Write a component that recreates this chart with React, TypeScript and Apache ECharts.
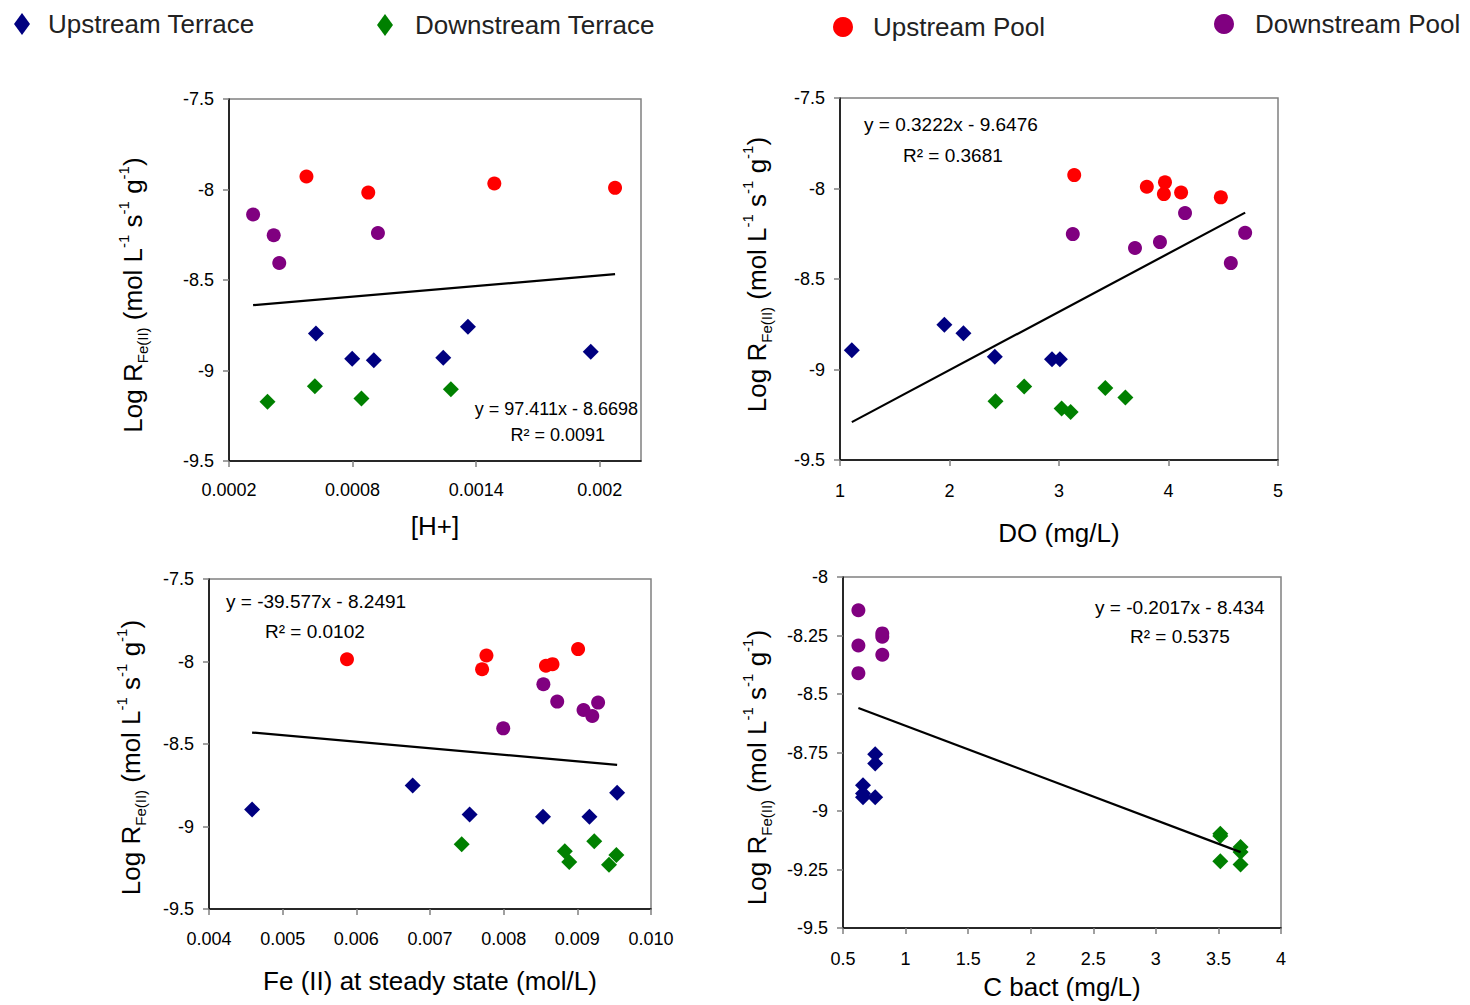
import React, { useEffect, useRef } from 'react';
import * as echarts from 'echarts';

const FONT = "'Liberation Sans', Arial, Helvetica, sans-serif";

const seriesNames = ['Upstream Terrace', 'Downstream Terrace', 'Upstream Pool', 'Downstream Pool'];
const seriesColors = ['#000080', '#008000', '#ff0000', '#800080'];
const seriesSymbols = ['diamond', 'diamond', 'circle', 'circle'];

// Panel 1 — [H+]
const hUpTerraceX = [0.000622, 0.000798, 0.000903, 0.00124, 0.00136, 0.001956];
const hUpTerraceY = [-8.795, -8.935, -8.943, -8.93, -8.758, -8.897];
const hDownTerraceX = [0.000387, 0.000617, 0.000843, 0.001277];
const hDownTerraceY = [-9.173, -9.087, -9.155, -9.103];
const hUpPoolX = [0.000576, 0.000876, 0.001488, 0.002074];
const hUpPoolY = [-7.928, -8.017, -7.967, -7.991];
const hDownPoolX = [0.000317, 0.000417, 0.000444, 0.000923];
const hDownPoolY = [-8.138, -8.253, -8.406, -8.24];

// Panel 2 — DO (mg/L)
const doUpTerraceX = [1.108, 1.953, 2.127, 2.414, 2.936, 3.008];
const doUpTerraceY = [-8.894, -8.753, -8.8, -8.929, -8.943, -8.943];
const doDownTerraceX = [2.42, 2.682, 3.024, 3.106, 3.423, 3.606];
const doDownTerraceY = [-9.176, -9.094, -9.216, -9.235, -9.102, -9.155];
const doUpPoolX = [3.139, 3.802, 3.968, 3.958, 4.115, 4.478];
const doUpPoolY = [-7.926, -7.99, -7.966, -8.031, -8.022, -8.049];
const doDownPoolX = [3.126, 3.694, 3.922, 4.151, 4.569, 4.7];
const doDownPoolY = [-8.252, -8.329, -8.296, -8.136, -8.412, -8.245];

// Panel 3 — Fe(II) at steady state (mol/L)
const feUpTerraceX = [0.004585, 0.006765, 0.007538, 0.008534, 0.009164, 0.00954];
const feUpTerraceY = [-8.897, -8.751, -8.927, -8.941, -8.941, -8.796];
const feDownTerraceX = [0.00743, 0.00883, 0.00889, 0.00923, 0.00943, 0.00953];
const feDownTerraceY = [-9.107, -9.15, -9.215, -9.089, -9.232, -9.172];
const feUpPoolX = [0.005873, 0.007707, 0.007766, 0.008574, 0.008663, 0.00901];
const feUpPoolY = [-7.986, -8.047, -7.964, -8.026, -8.016, -7.925];
const feDownPoolX = [0.007994, 0.008539, 0.008727, 0.009084, 0.009203, 0.009282];
const feDownPoolY = [-8.405, -8.138, -8.243, -8.294, -8.33, -8.249];

// Panel 4 — C bact (mg/L)
const cUpTerraceX = [0.757, 0.757, 0.66, 0.66, 0.66, 0.757];
const cUpTerraceY = [-8.757, -8.797, -8.89, -8.925, -8.941, -8.941];
const cDownTerraceX = [3.515, 3.515, 3.515, 3.677, 3.677, 3.677];
const cDownTerraceY = [-9.097, -9.107, -9.215, -9.154, -9.175, -9.229];
const cUpPoolX: number[] = [];
const cUpPoolY: number[] = [];
const cDownPoolX = [0.623, 0.623, 0.623, 0.814, 0.814, 0.814];
const cDownPoolY = [-8.142, -8.293, -8.411, -8.241, -8.255, -8.332];

// Linear trendlines (as printed on the chart)
const trendSlopes = [97.411, 0.3222, -39.577, -0.2017];
const trendIntercepts = [-8.6698, -9.6476, -8.2491, -8.434];
const equationTexts = ['y = 97.411x - 8.6698', 'y = 0.3222x - 9.6476', 'y = -39.577x - 8.2491', 'y = -0.2017x - 8.434'];
const r2Texts = ['R² = 0.0091', 'R² = 0.3681', 'R² = 0.0102', 'R² = 0.5375'];

// Axes
const xAxisNames = ['[H+]', 'DO (mg/L)', 'Fe (II) at steady state (mol/L)', 'C bact (mg/L)'];
const xMins = [0.0002, 1, 0.004, 0.5];
const xMaxs = [0.0022, 5, 0.01, 4];
const xIntervals = [0, 1, 0, 0.5];
const hTicks = [0.0002, 0.0008, 0.0014, 0.002];
const feTicks = [0.004, 0.005, 0.006, 0.007, 0.008, 0.009, 0.01];
const yMins = [-9.5, -9.5, -9.5, -9.5];
const yMaxs = [-7.5, -7.5, -7.5, -8];
const yIntervals = [0.5, 0.5, 0.5, 0.25];

const panelXs = [
  [hUpTerraceX, hDownTerraceX, hUpPoolX, hDownPoolX],
  [doUpTerraceX, doDownTerraceX, doUpPoolX, doDownPoolX],
  [feUpTerraceX, feDownTerraceX, feUpPoolX, feDownPoolX],
  [cUpTerraceX, cDownTerraceX, cUpPoolX, cDownPoolX],
];
const panelYs = [
  [hUpTerraceY, hDownTerraceY, hUpPoolY, hDownPoolY],
  [doUpTerraceY, doDownTerraceY, doUpPoolY, doDownPoolY],
  [feUpTerraceY, feDownTerraceY, feUpPoolY, feDownPoolY],
  [cUpTerraceY, cDownTerraceY, cUpPoolY, cDownPoolY],
];

// Layout (pixels)
const gridRects = [
  { left: 229, top: 99, width: 412, height: 362 },
  { left: 840, top: 98, width: 438, height: 362 },
  { left: 209, top: 579, width: 442, height: 330 },
  { left: 843, top: 577, width: 438, height: 351 },
];
const xNameGaps = [52, 60, 59, 46];
const xLabelMargins = [20, 22, 21, 22];
const yNameGaps = [79, 66, 61, 69];
const yNamePads = [
  [0, 30, 0, 0],
  [0, 0, 0, 9],
  [0, 27, 0, 0],
  [0, 30, 0, 0],
];
const eqPos = [
  { x: 638, y: 409, x2: 605, y2: 435, align: 'right', size: 18 },
  { x: 864, y: 124, x2: 903, y2: 155, align: 'left', size: 19 },
  { x: 226, y: 601, x2: 265, y2: 631, align: 'left', size: 19 },
  { x: 1095, y: 607, x2: 1130, y2: 636, align: 'left', size: 19 },
];
const legendPos = [
  { left: 14, top: 11, w: 16, h: 22, pad: 13 },
  { left: 377, top: 12, w: 16, h: 22, pad: 17 },
  { left: 833, top: 14, w: 20, h: 22, pad: 15 },
  { left: 1214, top: 11, w: 20, h: 22, pad: 16 },
];

const yName = '{m|Log R}{sub|Fe(II)}{m| (mol L}{sup|-1}{m| s}{sup|-1}{m| g}{sup|-1}{m|)}';

function buildOption(): any {
  const labelStyle = { color: '#000', fontSize: 18, fontFamily: FONT };
  const axisLine = { show: true, onZero: false, lineStyle: { color: '#000', width: 1.5 } };
  const axisTick = { show: true, inside: false, length: 6, lineStyle: { color: '#808080', width: 1.5 } };

  const grid = gridRects.map((r) => ({
    ...r,
    show: true,
    borderColor: '#808080',
    borderWidth: 1.5,
    backgroundColor: 'transparent',
    containLabel: false,
    outerBoundsMode: 'none',
  }));

  const xAxis = gridRects.map((_, i) => {
    const custom = i === 0 ? hTicks : i === 2 ? feTicks : null;
    const ax: any = {
      type: 'value',
      gridIndex: i,
      min: xMins[i],
      max: xMaxs[i],
      name: xAxisNames[i],
      nameLocation: 'middle',
      nameGap: xNameGaps[i],
      nameTextStyle: { color: '#000', fontSize: 26, fontFamily: FONT },
      axisLine,
      splitLine: { show: false },
      axisTick: { ...axisTick },
      axisLabel: { ...labelStyle, margin: xLabelMargins[i], hideOverlap: false, showMinLabel: true, showMaxLabel: true },
    };
    if (custom) {
      ax.axisTick.customValues = custom;
      ax.axisLabel.customValues = custom;
      if (i === 2) ax.axisLabel.formatter = (v: number) => v.toFixed(3);
      else ax.axisLabel.formatter = (v: number) => String(Number(v.toFixed(4)));
    } else {
      ax.interval = xIntervals[i];
    }
    return ax;
  });

  const yAxis = gridRects.map((_, i) => ({
    type: 'value',
    gridIndex: i,
    min: yMins[i],
    max: yMaxs[i],
    interval: yIntervals[i],
    name: yName,
    nameLocation: 'middle',
    nameRotate: 90,
    nameGap: yNameGaps[i],
    nameTextStyle: {
      padding: yNamePads[i],
      rich: {
        m: { fontSize: 26, fontFamily: FONT, color: '#000', lineHeight: 34 },
        sub: { fontSize: 15, fontFamily: FONT, color: '#000', verticalAlign: 'bottom', lineHeight: 15 },
        sup: { fontSize: 15, fontFamily: FONT, color: '#000', verticalAlign: 'top', lineHeight: 15 },
      },
    },
    axisLine,
    splitLine: { show: false },
    axisTick,
    axisLabel: { ...labelStyle, margin: 15, hideOverlap: false, showMinLabel: true, showMaxLabel: true },
  }));

  const series: any[] = [];
  for (let p = 0; p < 4; p++) {
    const allX: number[] = [];
    for (let s = 0; s < 4; s++) {
      const xs = panelXs[p][s];
      const ys = panelYs[p][s];
      if (!xs.length) continue;
      allX.push(...xs);
      series.push({
        type: 'scatter',
        name: seriesNames[s],
        xAxisIndex: p,
        yAxisIndex: p,
        symbol: seriesSymbols[s],
        symbolSize: seriesSymbols[s] === 'diamond' ? 16 : 14,
        itemStyle: { color: seriesColors[s], opacity: 1 },
        data: xs.map((x, k) => [x, ys[k]]),
        z: 2,
      });
    }
    const x0 = Math.min(...allX);
    const x1 = Math.max(...allX);
    series.push({
      type: 'line',
      name: 'Linear trend ' + (p + 1),
      xAxisIndex: p,
      yAxisIndex: p,
      symbol: 'none',
      silent: true,
      lineStyle: { color: '#000', width: 2.2 },
      data: [
        [x0, trendSlopes[p] * x0 + trendIntercepts[p]],
        [x1, trendSlopes[p] * x1 + trendIntercepts[p]],
      ],
      z: 3,
    });
  }

  const legend = seriesNames.map((n, i) => ({
    data: [{ name: n, icon: seriesSymbols[i] }],
    left: legendPos[i].left,
    top: legendPos[i].top,
    itemWidth: legendPos[i].w,
    itemHeight: legendPos[i].h,
    padding: 0,
    textStyle: { color: '#222', fontSize: 26, fontFamily: FONT, padding: [0, 0, 0, legendPos[i].pad] },
  }));

  const graphic: any[] = [];
  eqPos.forEach((e, i) => {
    graphic.push({
      type: 'text',
      x: e.x,
      y: e.y,
      style: {
        text: equationTexts[i],
        fontSize: e.size,
        fontFamily: FONT,
        fill: '#000',
        align: e.align,
        verticalAlign: 'middle',
        textAlign: e.align,
        textVerticalAlign: 'middle',
      },
    });
    graphic.push({
      type: 'text',
      x: e.x2,
      y: e.y2,
      style: {
        text: r2Texts[i],
        fontSize: e.size,
        fontFamily: FONT,
        fill: '#000',
        align: e.align,
        verticalAlign: 'middle',
        textAlign: e.align,
        textVerticalAlign: 'middle',
      },
    });
  });

  return {
    animation: false,
    backgroundColor: '#fff',
    textStyle: { fontFamily: FONT },
    grid,
    xAxis,
    yAxis,
    legend,
    series,
    graphic,
  };
}

export default function App() {
  const ref = useRef<HTMLDivElement>(null);
  useEffect(() => {
    if (!ref.current) return;
    const chart = echarts.init(ref.current, undefined, { renderer: 'svg' });
    chart.setOption(buildOption());
    return () => chart.dispose();
  }, []);
  return (
    <div
      ref={ref}
      style={{ position: 'fixed', left: 0, top: 0, width: 1470, height: 1005, background: '#fff' }}
    />
  );
}
